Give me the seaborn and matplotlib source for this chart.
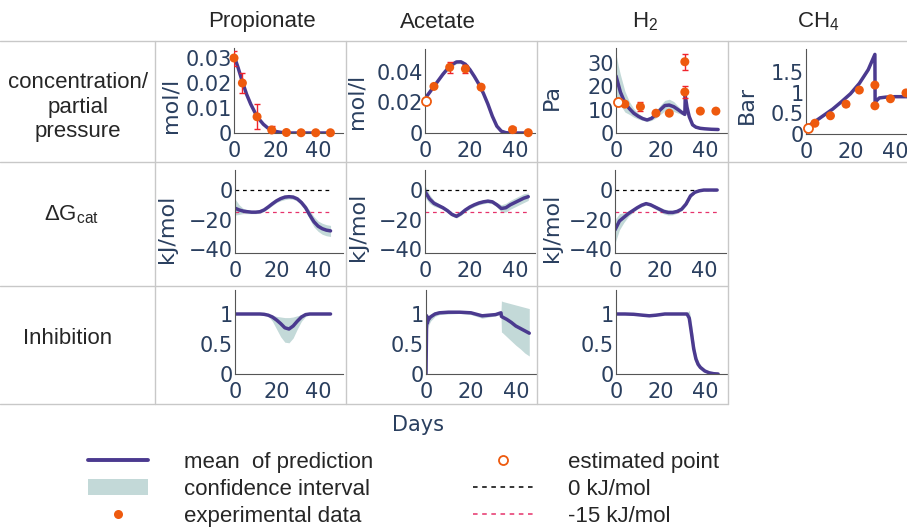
"""
Model prediction vs. experimental data: concentrations, Gibbs energies and inhibition.
"""

import matplotlib
matplotlib.use("Agg")
import matplotlib.pyplot as plt
from matplotlib.lines import Line2D
from matplotlib.patches import Patch
from matplotlib.ticker import FuncFormatter
import seaborn as sns

# ---------------- data ----------------
DAYS = list(range(0, 47, 2))          # 0, 2, ..., 46
DAYS_EXP = [0, 4, 11, 18, 25, 32, 39, 46]
DAYS_ACE_EXP = [4, 11, 18, 25, 39, 46]
DAYS_GAS_EXP = [4, 11, 18, 24, 31, 31, 38, 45]

# propionate concentration (mol/l)
prop_conc_mean = [0.031, 0.026, 0.0205, 0.0155, 0.0115, 0.0082, 0.0055, 0.0035, 0.0021, 0.0012, 0.0006, 0.0003,
                  0.0001, 0, 0, 0, 0, 0, 0, 0, 0, 0, 0, 0]
prop_conc_lo = [0.0302, 0.0253, 0.0199, 0.015, 0.0111, 0.0079, 0.0053, 0.0033, 0.002, 0.0011, 0.0005, 0.0002,
                0, 0, 0, 0, 0, 0, 0, 0, 0, 0, 0, 0]
prop_conc_hi = [0.0318, 0.0267, 0.0211, 0.016, 0.0119, 0.0085, 0.0057, 0.0037, 0.0022, 0.0013, 0.0007, 0.0004,
                0.0002, 0, 0, 0, 0, 0, 0, 0, 0, 0, 0, 0]
prop_exp = [0.030, 0.020, 0.0065, 0.0012, 0.0002, 0.0001, 0.0001, 0.0001]
prop_err = [0.003, 0.004, 0.005, 0.0015, 0, 0, 0, 0]

# acetate concentration (mol/l)
ace_conc_mean = [0.0225, 0.0265, 0.0305, 0.0345, 0.0385, 0.042, 0.0448, 0.0465, 0.0466, 0.045, 0.0415, 0.037,
                 0.032, 0.026, 0.019, 0.011, 0.0045, 0.0012, 0.0002, 0, 0, 0, 0, 0]
ace_conc_lo = [0.0221, 0.0261, 0.0301, 0.0341, 0.0377, 0.041, 0.0436, 0.0453, 0.0455, 0.0441, 0.0408, 0.0365,
               0.0316, 0.0257, 0.0187, 0.0107, 0.0042, 0.001, 0.0001, 0, 0, 0, 0, 0]
ace_conc_hi = [0.0229, 0.0269, 0.0309, 0.0349, 0.0393, 0.043, 0.046, 0.0477, 0.0478, 0.0459, 0.0422, 0.0375,
               0.0324, 0.0263, 0.0193, 0.0113, 0.0048, 0.0014, 0.0003, 0, 0, 0, 0, 0]
ace_exp = [0.0305, 0.043, 0.042, 0.030, 0.0022, 0.0002]
ace_err = [0, 0.0035, 0.0025, 0.0015, 0.0018, 0]
ace_est = (0.5, 0.021)

# H2 partial pressure (Pa)
h2_days = [0, 1, 2, 4, 6, 8, 10, 12, 14, 16, 18, 20, 22, 24, 26, 28, 30, 31, 31.2, 32, 33, 34.5, 36, 38, 40, 43, 46]
h2_mean = [24.5, 21, 17.5, 13, 10.5, 8.5, 7.2, 6.2, 5.6, 6.3, 8, 10, 11.8, 12, 11.3, 10, 8.6, 8, 16, 11,
           7, 3.5, 2.5, 2, 1.8, 1.6, 1.5]
h2_hi = [34, 29, 25, 18, 13.5, 10.5, 8.5, 7, 6.3, 7.3, 9.5, 12, 14, 14.5, 13.5, 11.5, 9.5, 8.7, 17, 12,
         7.8, 4.2, 3, 2.4, 2, 1.8, 1.7]
h2_lo = [14, 13.5, 12, 9, 8, 6.8, 6, 5.4, 4.9, 5.4, 6.5, 8, 9.5, 9.5, 9.2, 8.5, 7.8, 7.3, 15, 10,
         6.2, 2.8, 2, 1.6, 1.5, 1.4, 1.3]
h2_exp = [12.4, 11.3, 8.5, 8.5, 30.6, 17.6, 9.4, 9.4]
h2_err = [0, 2, 0, 0, 3.5, 2.5, 0, 0]
h2_est = (0.8, 13.3)

# CH4 partial pressure (Bar)
ch4_days = [0, 4, 8, 12, 16, 20, 24, 28, 31, 31.1, 33, 36, 40, 46, 52]
ch4_mean = [0.15, 0.3, 0.45, 0.6, 0.78, 0.97, 1.22, 1.55, 1.92, 0.77, 0.87, 0.89, 0.9, 0.9, 0.9]
ch4_lo = [0.14, 0.28, 0.43, 0.58, 0.76, 0.95, 1.2, 1.52, 1.89, 0.75, 0.85, 0.87, 0.88, 0.88, 0.88]
ch4_hi = [0.16, 0.32, 0.47, 0.62, 0.8, 0.99, 1.24, 1.58, 1.95, 0.79, 0.89, 0.91, 0.92, 0.92, 0.92]
ch4_exp = [0.26, 0.44, 0.72, 1.06, 1.18, 0.68, 0.85, 0.99]
ch4_err = [0, 0, 0.05, 0, 0, 0, 0, 0]
ch4_est = (0.8, 0.15)

# Gibbs energy of catabolism (kJ/mol)
prop_dg_mean = [-12.3, -13.5, -14.3, -14.7, -15, -15, -14.7, -13.5, -11.5, -9.3, -7.3, -5.8,
                -4.8, -4.5, -4.8, -6, -8.5, -12, -17, -21.5, -24.5, -26.2, -27.2, -27.7]
prop_dg_hi = [-6, -10, -12.5, -13.5, -14, -14, -13.7, -12.5, -10.5, -8, -6, -4.3,
              -3.2, -3, -3.3, -4.5, -7, -10, -14, -18, -21, -22.5, -23.5, -24]
prop_dg_lo = [-17, -16.5, -16, -16, -16, -16, -15.7, -14.5, -12.5, -10.5, -8.5, -7.3,
              -6.5, -6, -6.3, -7.5, -10, -14, -20, -25, -28, -30, -31, -31.5]

ace_dg_mean = [-1, -6, -9, -10.5, -12, -14, -16.5, -17.8, -16, -13.5, -11.5, -10,
               -8.8, -8, -7.5, -8, -10, -12.5, -12, -10, -8.5, -7, -5.5, -4.5]
ace_dg_hi = [3, -3, -7, -9, -10.8, -12.8, -15.3, -16.5, -14.8, -12.3, -10.3, -8.8,
             -7.5, -6.7, -6.3, -6.8, -8.5, -10, -9, -7, -5.5, -4, -2.5, -2]
ace_dg_lo = [-5, -9, -11, -12, -13.2, -15.2, -17.7, -19, -17.2, -14.7, -12.7, -11.2,
             -10, -9.3, -8.8, -9.3, -11.5, -15, -15, -13, -11.5, -10, -8.5, -7]

h2_dg_mean = [-27, -21, -18.5, -16, -14, -12, -10.3, -9.2, -10, -11.5, -13, -14.5,
              -15.2, -15.2, -14.5, -13, -9.5, -4, -1.5, -0.5, 0, 0, 0, 0]
h2_dg_hi = [-20, -16, -15.5, -14.5, -13, -11, -9.3, -8.2, -9, -10.2, -11.5, -12.8,
            -13.5, -13.7, -13.3, -12, -8.5, -3, -1, 0, 0.3, 0.3, 0.3, 0.3]
h2_dg_lo = [-36, -27, -22, -18, -15.2, -13, -11.3, -10.2, -11, -12.8, -14.5, -16.2,
            -17, -16.8, -15.7, -14, -10.5, -5, -2, -1, -0.3, -0.3, -0.3, -0.3]
DG_REFS = [0, -15]

# inhibition factors (-)
prop_inh_mean = [1, 1, 1, 1, 1, 1, 1, 0.995, 0.98, 0.95, 0.9, 0.84,
                 0.77, 0.75, 0.8, 0.88, 0.95, 0.99, 1, 1, 1, 1, 1, 1]
prop_inh_lo = [1, 1, 1, 1, 1, 1, 1, 0.99, 0.96, 0.88, 0.75, 0.62,
               0.53, 0.52, 0.6, 0.75, 0.88, 0.96, 0.99, 1, 1, 1, 1, 1]
prop_inh_hi = [1, 1, 1, 1, 1, 1, 1, 1, 0.995, 0.98, 0.96, 0.95,
               0.94, 0.94, 0.95, 0.97, 0.99, 1, 1, 1, 1, 1, 1, 1]

ace_inh_days = [0, 0.3, 0.6, 1, 2, 4, 6, 10, 15, 20, 25, 28, 31, 33.4, 33.6, 34, 36, 38, 40, 42, 44, 46]
ace_inh_mean = [0, 0.97, 0.85, 0.9, 0.95, 1.0, 1.02, 1.03, 1.03, 1.02, 0.97, 0.98, 0.99, 1.02, 0.96,
                0.95, 0.91, 0.86, 0.8, 0.76, 0.72, 0.68]
ace_inh_hi = [0, 1.0, 0.95, 0.97, 1.0, 1.04, 1.05, 1.05, 1.04, 1.03, 1.0, 1.0, 1.01, 1.04, 1.22,
              1.21, 1.19, 1.17, 1.15, 1.13, 1.11, 1.09]
ace_inh_lo = [0, 0.9, 0.75, 0.8, 0.88, 0.96, 0.99, 1.0, 1.01, 0.99, 0.93, 0.95, 0.97, 1.0, 0.7,
              0.69, 0.62, 0.55, 0.48, 0.42, 0.35, 0.3]

h2_inh_days = [0, 4, 8, 12, 15, 18, 22, 26, 30, 32, 33, 34, 35, 36, 37, 38, 40, 42, 44, 46]
h2_inh_mean = [1.0, 1.0, 0.995, 0.98, 0.97, 0.98, 1.0, 1.0, 1.0, 1.0, 0.93, 0.68, 0.42, 0.25, 0.16,
               0.11, 0.05, 0.02, 0.005, 0.0]
h2_inh_hi = [1.0, 1.0, 1.0, 0.99, 0.98, 0.99, 1.0, 1.0, 1.0, 1.02, 1.06, 0.85, 0.55, 0.33, 0.22,
             0.15, 0.08, 0.04, 0.015, 0.0]
h2_inh_lo = [1.0, 1.0, 0.99, 0.97, 0.96, 0.97, 1.0, 1.0, 1.0, 0.97, 0.85, 0.55, 0.3, 0.17, 0.12,
             0.08, 0.04, 0.015, 0.0, 0.0]

COL_TITLES = ["Propionate", "Acetate", "H$_\\mathregular{2}$", "CH$_\\mathregular{4}$"]
ROW_TITLES = ["concentration/\npartial\npressure", "\u0394G$_\\mathregular{cat}$", "Inhibition"]

# ---------------- style ----------------
NAVY = "#2a3f5f"
MEAN_C = "#4b3a8f"
CI_C = "#c3d9d8"
EXP_C = "#ee5a0e"
ERR_C = "#f0232b"
PINK = "#e6336b"
GRID_C = "#c8c8c8"
TXT_FONT = ["Liberation Sans", "DejaVu Sans"]

sns.set_theme(style="white")
plt.rcParams["font.family"] = ["DejaVu Sans"]
plt.rcParams["mathtext.fontset"] = "custom"
plt.rcParams["mathtext.rm"] = "Liberation Sans"

W, H = 907, 527
fig = plt.figure(figsize=(W / 100, H / 100), dpi=100)


def px_axes(left, top, w, h):
    return fig.add_axes([left / W, 1 - (top + h) / H, w / W, h / H])


fmt = FuncFormatter(lambda v, _: f"{v:g}".replace("-", "\u2212"))


def style_axes(ax, xlim, ylim, yticks):
    ax.set_facecolor("none")
    ax.set_xlim(*xlim)
    ax.set_ylim(*ylim)
    ax.set_xticks([0, 20, 40])
    ax.set_yticks(yticks)
    ax.xaxis.set_major_formatter(fmt)
    ax.yaxis.set_major_formatter(fmt)
    ax.tick_params(length=0, labelsize=15, labelcolor=NAVY)
    ax.tick_params(axis="x", pad=6)
    ax.tick_params(axis="y", pad=1.5)
    for s in ["top", "right"]:
        ax.spines[s].set_visible(False)
    for s in ["left", "bottom"]:
        ax.spines[s].set_color("#555555")
        ax.spines[s].set_linewidth(0.8)
    ax.set_xlabel("")
    ax.set_ylabel("")


def draw_model(ax, days, mean, lo, hi):
    ax.fill_between(days, lo, hi, color=CI_C, lw=0)
    sns.lineplot(x=days, y=mean, ax=ax, color=MEAN_C, lw=2.5, sort=False, estimator=None)


def draw_exp(ax, days, vals, errs):
    ed = [d for d, e in zip(days, errs) if e > 0]
    ev = [v for v, e in zip(vals, errs) if e > 0]
    ee = [e for e in errs if e > 0]
    if ed:
        ax.errorbar(ed, ev, yerr=ee, fmt="none", ecolor=ERR_C, elinewidth=1, capsize=2.5, zorder=4)
    sns.scatterplot(x=days, y=vals, ax=ax, color=EXP_C, s=42, edgecolor="none", zorder=5, clip_on=False)


def draw_est(ax, pt):
    ax.plot(pt[0], pt[1], "o", mfc="white", mec=EXP_C, mew=1.3, ms=6.5, clip_on=False, zorder=5)


def set_ylabel(ax, text, cx, cy, box):
    left, top, w, h = box
    ax.set_ylabel(text, fontsize=16, color=NAVY, va="center")
    ax.yaxis.set_label_coords((cx - left) / w, (top + h - cy) / h)


# ---------------- row 1: concentrations / partial pressures ----------------
box = (234, 48, 109, 85)
ax = px_axes(*box)
draw_model(ax, DAYS, prop_conc_mean, prop_conc_lo, prop_conc_hi)
draw_exp(ax, DAYS_EXP, prop_exp, prop_err)
style_axes(ax, (0, 52), (0, 0.034), [0, 0.01, 0.02, 0.03])
set_ylabel(ax, "mol/l", 170, 105, box)

box = (425, 49, 110, 84)
ax = px_axes(*box)
draw_model(ax, DAYS, ace_conc_mean, ace_conc_lo, ace_conc_hi)
draw_exp(ax, DAYS_ACE_EXP, ace_exp, ace_err)
draw_est(ax, ace_est)
style_axes(ax, (0, 49), (0, 0.055), [0, 0.02, 0.04])
set_ylabel(ax, "mol/l", 356, 101, box)

box = (616, 48, 111, 85)
ax = px_axes(*box)
draw_model(ax, h2_days, h2_mean, h2_lo, h2_hi)
draw_exp(ax, DAYS_GAS_EXP, h2_exp, h2_err)
draw_est(ax, h2_est)
style_axes(ax, (0, 50), (0, 36.5), [0, 10, 20, 30])
set_ylabel(ax, "Pa", 552, 97, box)

box = (806, 49, 120, 85)
ax = px_axes(*box)
draw_model(ax, ch4_days, ch4_mean, ch4_lo, ch4_hi)
draw_exp(ax, DAYS_GAS_EXP, ch4_exp, ch4_err)
draw_est(ax, ch4_est)
style_axes(ax, (0, 54), (0, 2.05), [0, 0.5, 1, 1.5])
set_ylabel(ax, "Bar", 747, 105, box)

# ---------------- row 2: Gibbs energies ----------------
dg_panels = [
    ((235, 170, 108, 83), (0, 52), DAYS, prop_dg_mean, prop_dg_lo, prop_dg_hi, (167, 229)),
    ((425, 170, 110, 83), (0, 49), DAYS, ace_dg_mean, ace_dg_lo, ace_dg_hi, (358, 227)),
    ((615, 170, 111, 83), (0, 50), DAYS, h2_dg_mean, h2_dg_lo, h2_dg_hi, (552, 228)),
]
for box, xlim, days, mean, lo, hi, lab in dg_panels:
    ax = px_axes(*box)
    ax.hlines(DG_REFS[0], 0, days[-1], color="black", lw=0.9, linestyles=(0, (3, 3)))
    ax.hlines(DG_REFS[1], 0, days[-1], color=PINK, lw=0.9, linestyles=(0, (3, 3)))
    draw_model(ax, days, mean, lo, hi)
    style_axes(ax, xlim, (-42.7, 13.6), [-40, -20, 0])
    set_ylabel(ax, "kJ/mol", lab[0], lab[1], box)

# ---------------- row 3: inhibition ----------------
inh_panels = [
    ((235, 290, 108, 84), (0, 52), DAYS, prop_inh_mean, prop_inh_lo, prop_inh_hi),
    ((426, 290, 110, 84), (0, 49), ace_inh_days, ace_inh_mean, ace_inh_lo, ace_inh_hi),
    ((616, 290, 111, 84), (0, 50), h2_inh_days, h2_inh_mean, h2_inh_lo, h2_inh_hi),
]
for box, xlim, days, mean, lo, hi in inh_panels:
    ax = px_axes(*box)
    draw_model(ax, days, mean, lo, hi)
    style_axes(ax, xlim, (0, 1.4), [0, 0.5, 1])

# ---------------- table frame, titles ----------------
for y, x0, x1 in [(41, 0, 907), (162, 0, 907), (286, 0, 728), (404, 0, 728)]:
    fig.add_artist(Line2D([x0 / W, x1 / W], [1 - y / H] * 2, color=GRID_C, lw=1))
for x in [155, 346, 537, 728]:
    fig.add_artist(Line2D([x / W] * 2, [1 - 41 / H, 1 - 404 / H], color=GRID_C, lw=1))

for text, x in zip(COL_TITLES, [262, 438, 645, 818]):
    fig.text(x / W, 1 - 22 / H, text, ha="center", va="center", fontsize=16, family=TXT_FONT)
for text, (x, y) in zip(ROW_TITLES, [(78, 107), (72, 215), (68, 338)]):
    fig.text(x / W, 1 - y / H, text, ha="center", va="center", fontsize=16, family=TXT_FONT,
             linespacing=1.2)

fig.text(418 / W, 1 - 425 / H, "Days", ha="center", va="center", fontsize=15, color=NAVY)

# ---------------- legend ----------------
handles = [
    Line2D([], [], color=MEAN_C, lw=2.8),
    Patch(facecolor=CI_C, edgecolor="none"),
    Line2D([], [], ls="none", marker="o", color=EXP_C, ms=6.5, mec="none"),
    Line2D([], [], ls="none", marker="o", mfc="white", mec=EXP_C, mew=1.3, ms=6.5),
    Line2D([], [], color="black", lw=1.1, ls=(0, (3, 3))),
    Line2D([], [], color=PINK, lw=1.1, ls=(0, (3, 3))),
]
labels = ["mean  of prediction", "confidence interval", "experimental data",
          "estimated point", "0 kJ/mol", "-15 kJ/mol"]
fig.legend(handles, labels, ncol=2, loc="upper left", bbox_to_anchor=(88 / W, 1 - 452 / H),
           frameon=False, prop={"family": TXT_FONT, "size": 16}, handlelength=2.7,
           handletextpad=1.6, columnspacing=4.5, labelspacing=0.26, borderpad=0, borderaxespad=0)

fig.savefig("out.png", dpi=100)
